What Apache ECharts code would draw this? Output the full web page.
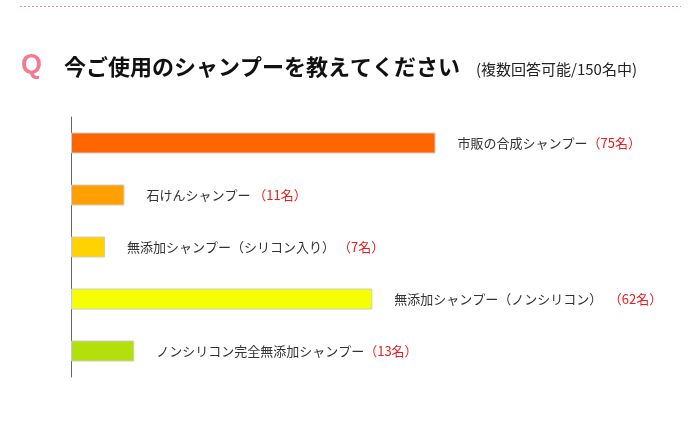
<!DOCTYPE html>
<html><head><meta charset="utf-8">
<script src="https://cdn.jsdelivr.net/npm/echarts@6/dist/echarts.min.js"></script>
<style>html,body{margin:0;padding:0;background:#fff}#c{width:700px;height:426px}</style>
</head><body><div id="c"></div>
<script>
const categories = [
  '市販の合成シャンプー',
  '石けんシャンプー ',
  '無添加シャンプー（シリコン入り） ',
  '無添加シャンプー（ノンシリコン）　',
  'ノンシリコン完全無添加シャンプー'
];
const counts = [75, 11, 7, 62, 13];
const barColors = ['#ff6600', '#ff9f00', '#ffd200', '#f6ff00', '#b3e00b'];
const titleText = '今ご使用のシャンプーを教えてください';
const subText = '(複数回答可能/150名中)';

const chart = echarts.init(document.getElementById('c'));
const FONT = '"Noto Sans CJK JP", "Noto Sans", sans-serif';
chart.setOption({
  animation: false,
  backgroundColor: '#fff',
  grid: { left: 71, top: 117, width: 486, height: 260 },
  xAxis: { type: 'value', min: 0, max: 100, show: false },
  yAxis: {
    type: 'category', data: categories, inverse: true,
    axisLine: { show: true, lineStyle: { color: '#666', width: 1 } },
    axisTick: { show: false }, axisLabel: { show: false }, splitLine: { show: false }
  },
  series: [{
    type: 'bar', barWidth: 21,
    data: counts.map((v, i) => ({ value: v, itemStyle: { color: barColors[i] } })),
    itemStyle: { borderColor: '#cccccc', borderWidth: 1 },
    label: {
      show: true, position: 'right', distance: 22,
      fontFamily: FONT,
      formatter: p => '{n|' + categories[p.dataIndex] + '}{c|（' + p.value + '名）}',
      rich: {
        n: { fontSize: 13, color: '#333', fontFamily: FONT, lineHeight: 18 },
        c: { fontSize: 13, color: '#ee1c1c', fontFamily: FONT, lineHeight: 18 }
      }
    }
  }],
  graphic: [
    { type: 'line', shape: { x1: 20, y1: 6.5, x2: 681, y2: 6.5 },
      style: { stroke: '#f58ca4', lineWidth: 1, lineDash: [2, 2] } },
    { type: 'text', left: 21, top: 52,
      style: { text: 'Q', fontSize: 27, fontFamily: '"Liberation Sans", Arial, sans-serif', fontWeight: 'bold', fill: '#f27b92' } },
    { type: 'text', left: 64, top: 56,
      style: { text: titleText, fontSize: 22, fontFamily: FONT, fontWeight: 'bold', fill: '#111' } },
    { type: 'text', left: 476, top: 62,
      style: { text: subText, fontSize: 15, fontFamily: FONT, fill: '#222' } }
  ]
});
</script></body></html>
